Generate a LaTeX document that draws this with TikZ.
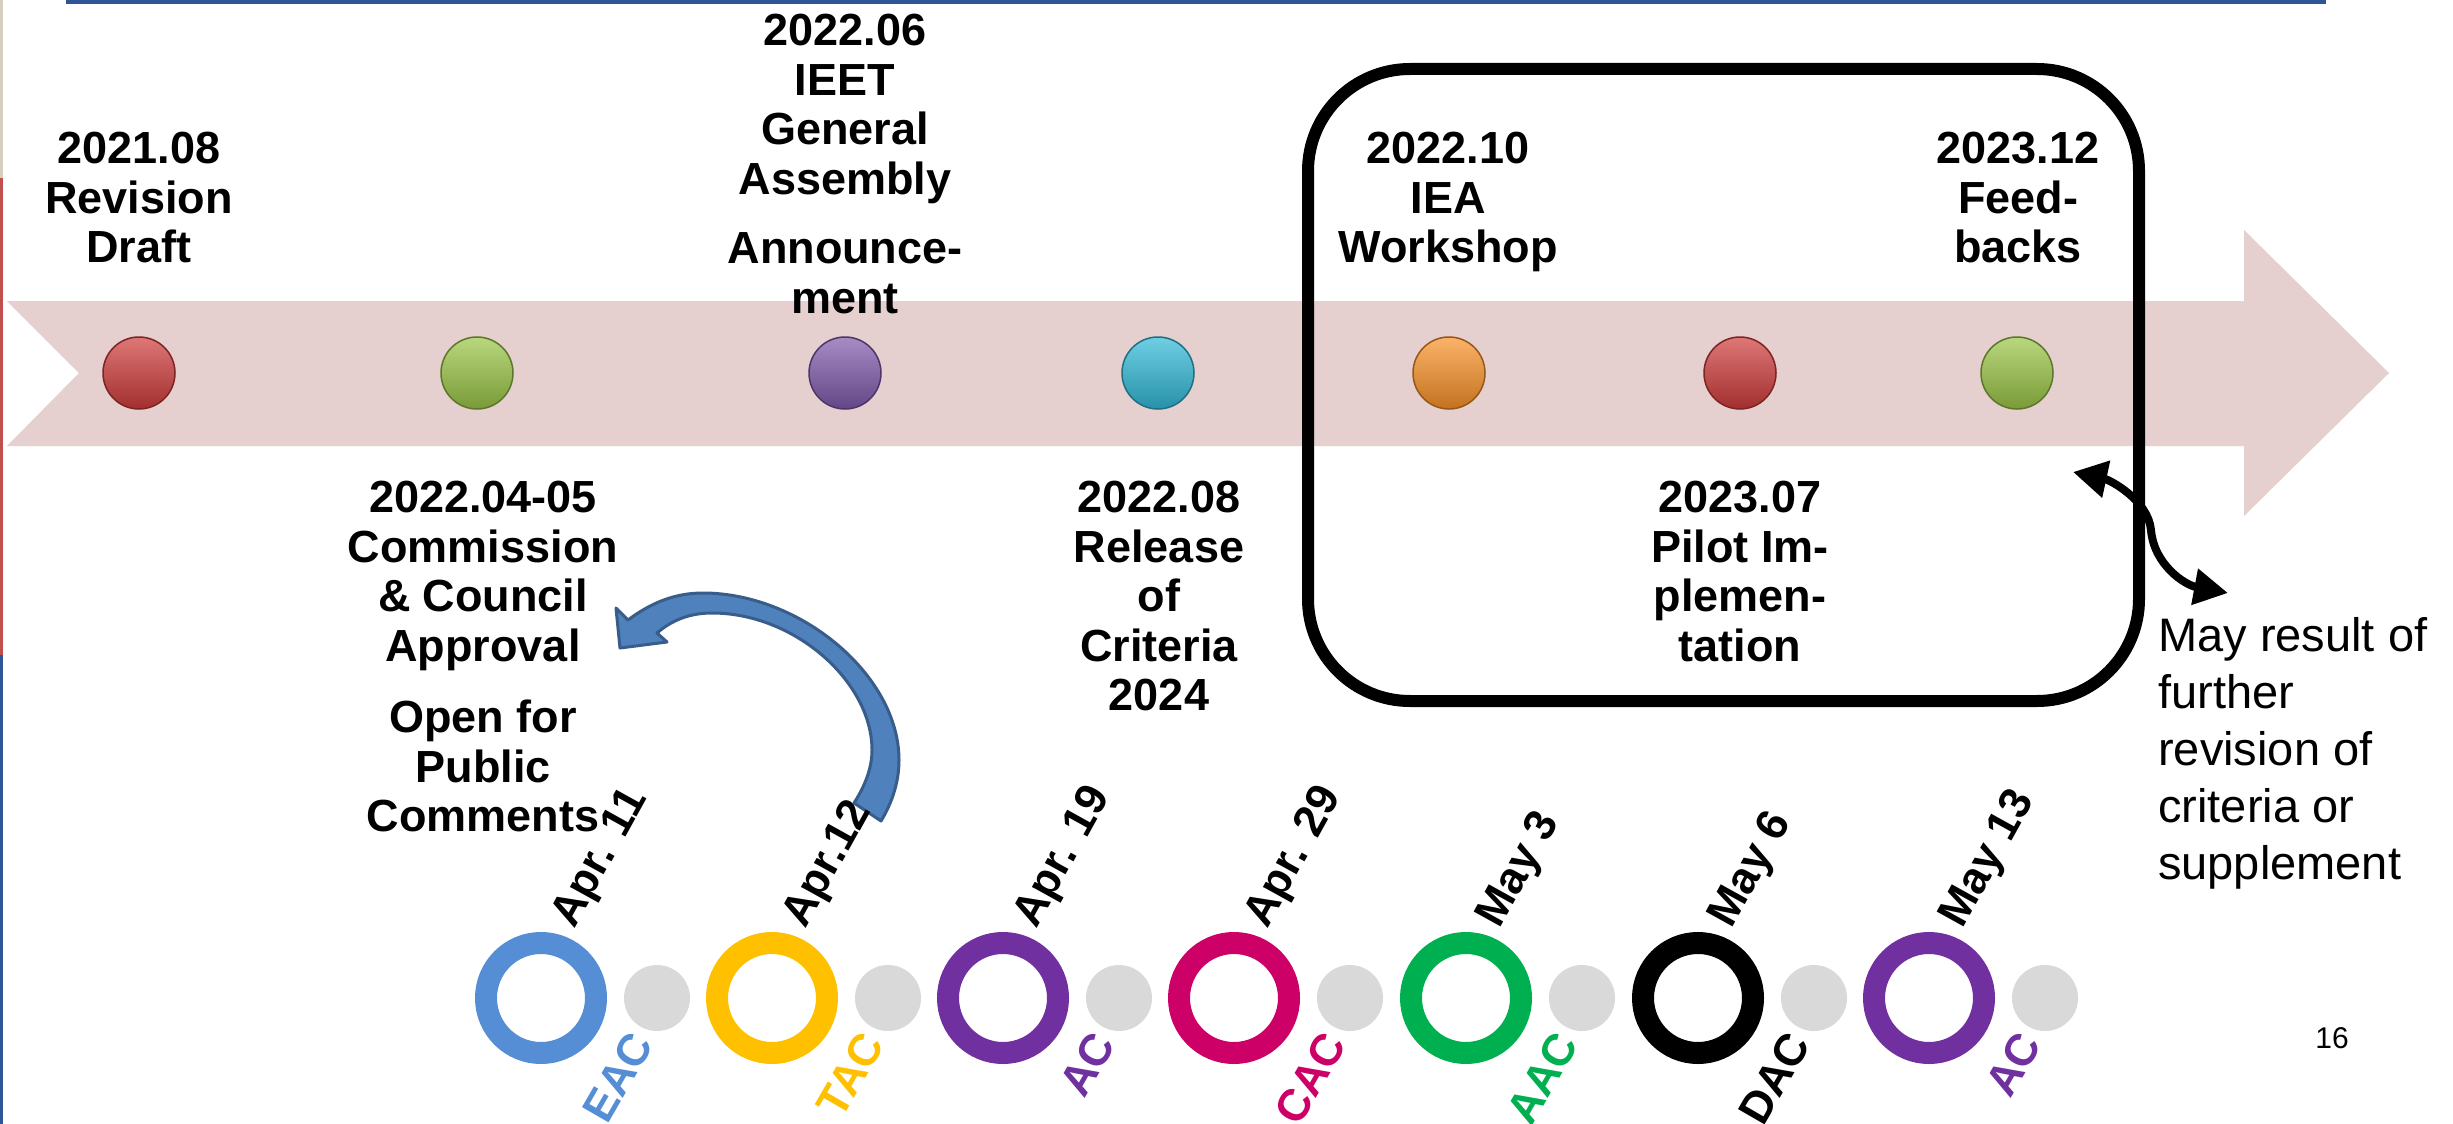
\documentclass[tikz,border=0pt]{standalone}
\usepackage{fontspec}
\setmainfont{Liberation Sans}
\usetikzlibrary{arrows.meta}
\definecolor{ribbon}{RGB}{230,207,207}
\definecolor{topblue}{RGB}{47,85,151}
\definecolor{edgered}{RGB}{192,80,77}
\definecolor{edgebeige}{RGB}{214,206,190}
\definecolor{arrowblue}{RGB}{79,129,189}
\definecolor{arrowedge}{RGB}{56,93,138}
\definecolor{dotgray}{RGB}{217,217,217}
\definecolor{beadred}{RGB}{208,60,60}
\definecolor{beadgreen}{RGB}{155,198,70}
\definecolor{beadpurple}{RGB}{128,90,172}
\definecolor{beadcyan}{RGB}{50,186,216}
\definecolor{beadorange}{RGB}{250,146,40}
\definecolor{ringblue}{RGB}{85,142,213}
\definecolor{ringyellow}{RGB}{255,192,0}
\definecolor{ringpurple}{RGB}{112,48,160}
\definecolor{ringmagenta}{RGB}{204,0,102}
\definecolor{ringgreen}{RGB}{0,176,80}
\begin{document}
\begin{tikzpicture}[x=1pt,y=-1pt,
  tlbl/.style={font=\fontsize{45pt}{49.5pt}\selectfont\bfseries, align=center, inner sep=0pt, anchor=north},
  tnote/.style={font=\fontsize{47pt}{57pt}\selectfont, align=left, inner sep=0pt, anchor=north west},
  tbead/.style={circle, inner sep=0pt, minimum size=72pt, draw=#1!60!black, line width=1.5pt, top color=#1!70!white, middle color=#1, bottom color=#1!78!black},
  tring/.style={circle, inner sep=0pt, minimum size=110pt, draw=#1, line width=22pt},
  tgdot/.style={circle, inner sep=0pt, minimum size=66pt, fill=dotgray},
  tdate/.style={font=\fontsize{44.6pt}{50pt}\selectfont\bfseries, inner sep=0pt, rotate=61, anchor=base west},
  tcom/.style={font=\fontsize{44.6pt}{50pt}\selectfont\bfseries, text=#1, inner sep=0pt, rotate=60, anchor=base east}
]
\fill[white] (0,0) rectangle (2453,1124);
\useasboundingbox (0,0) rectangle (2453,1124);
% slide edge lines
\fill[edgebeige] (0,0) rectangle (3,178);
\fill[edgered] (0,178) rectangle (3,655);
\fill[topblue] (0,655) rectangle (3,1124);
\fill[topblue] (66,0) rectangle (2326,4);
% ribbon arrow
\fill[ribbon] (7,301) -- (2244,301) -- (2244,230) -- (2389,373) -- (2244,516) -- (2244,446) -- (7,446) -- (79,373) -- cycle;
% rounded box
\node[draw, rounded corners=102pt, line width=12pt, minimum width=831pt, minimum height=632pt, inner sep=0pt] (box) at (1723.5,385) {};
% beads
\node[tbead=beadred]    (d1) at (139,373) {};
\node[tbead=beadgreen]  (d2) at (477,373) {};
\node[tbead=beadpurple] (d3) at (845,373) {};
\node[tbead=beadcyan]   (d4) at (1158,373) {};
\node[tbead=beadorange] (d5) at (1449,373) {};
\node[tbead=beadred]    (d6) at (1740,373) {};
\node[tbead=beadgreen]  (d7) at (2017,373) {};
% labels
\node[tlbl] (t1) at (139,132) {2021.08\\Revision\\Draft};
\node[tlbl] (t2) at (845,14) {2022.06\\IEET\\General\\Assembly\\[20pt]Announce-\\ment};
\node[tlbl] (t3) at (483,481) {2022.04-05\\Commission\\\& Council\\Approval\\[22pt]Open for\\Public\\Comments};
\node[tlbl] (t4) at (1159,481) {2022.08\\Release\\of\\Criteria\\2024};
\node[tlbl] (t5) at (1448,132) {2022.10\\IEA\\Workshop};
\node[tlbl] (t6) at (2018,132) {2023.12\\Feed-\\backs};
\node[tlbl] (t7) at (1740,481) {2023.07\\Pilot Im-\\plemen-\\tation};
\node[tnote] (note) at (2158,617) {May result of\\further\\revision of\\criteria or\\supplement};
\node[font=\fontsize{30pt}{34pt}\selectfont, inner sep=0pt] (page) at (2332,1038) {16};
% blue curved arrow
\filldraw[fill=arrowblue, draw=arrowedge, line width=3pt, line join=round]
  (628,620) .. controls (652,602) and (676,593) .. (703,593)
  .. controls (800,593) and (899,675) .. (899,760)
  .. controls (899,782) and (892,803) .. (881,821)
  -- (854,803)
  .. controls (865,786) and (872,768) .. (872,750)
  .. controls (872,682) and (795,613) .. (712,613)
  .. controls (690,613) and (672,620) .. (657,633)
  -- (667,642) -- (620,648) -- (616,608) -- cycle;
% black double arrow
\coordinate (da1) at (2073,472);
\coordinate (da2) at (2228,593);
\draw[line width=8pt, {Triangle[length=34pt,width=36pt]}-{Triangle[length=34pt,width=35pt]}]
  (da1) .. controls (2110,480) and (2148,500) .. (2151,530)
  .. controls (2154,565) and (2185,585) .. (da2);
% rings and gray dots
\foreach \i/\x/\c/\dt/\cm in {1/541/ringblue/{Apr. 11}/EAC, 2/772/ringyellow/{Apr.12}/TAC, 3/1003/ringpurple/{Apr. 19}/AC, 4/1234/ringmagenta/{Apr. 29}/CAC, 5/1466/ringgreen/{May 3}/AAC, 6/1698/black/{May 6}/DAC, 7/1929/ringpurple/{May 13}/AC}{
  \node[tring=\c] (r\i) at (\x,998) {};
  \node[tgdot] (g\i) at (\x+116,998) {};
  \node[tdate] (dt\i) at ([shift={(33,-68)}]r\i.center) {\dt};
  \node[tcom=\c] (cm\i) at ([shift={(114,46)}]r\i.center) {\cm};
}
\end{tikzpicture}
\end{document}
